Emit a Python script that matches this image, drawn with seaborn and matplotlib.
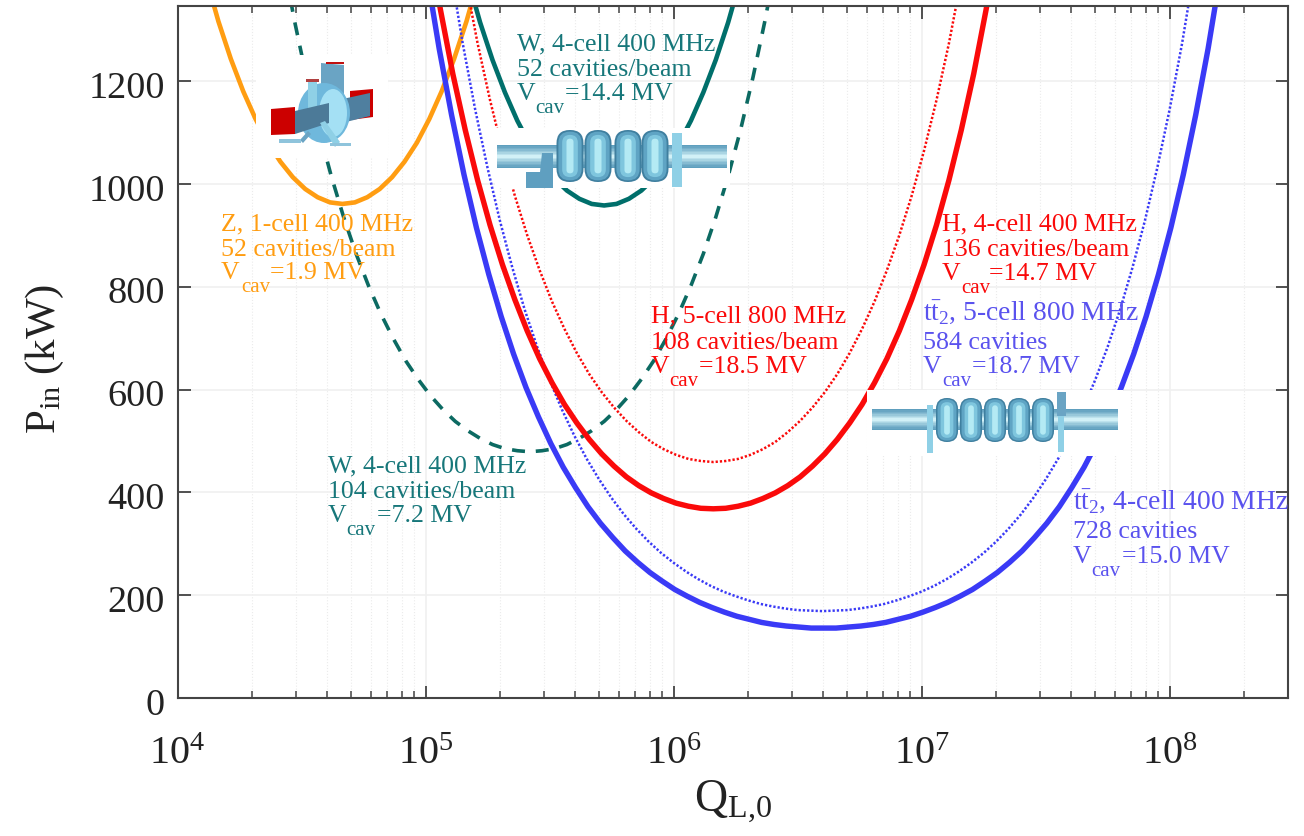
import numpy as np
import seaborn as sns
import matplotlib.pyplot as plt
from matplotlib.colors import to_rgb
from matplotlib.patches import Rectangle, Ellipse, Polygon, FancyBboxPatch
from matplotlib.ticker import LogLocator, NullFormatter, FixedLocator, FuncFormatter
from matplotlib.transforms import Affine2D, ScaledTranslation

# curves: log10(Q_L,0) and P_in in kW
logq_z = [4.115, 4.165, 4.215, 4.265, 4.315, 4.365, 4.415, 4.465, 4.515, 4.565, 4.615, 4.665,
          4.715, 4.765, 4.815, 4.865, 4.915, 4.965, 5.015, 5.065, 5.115, 5.165, 5.215]
p_z = [1401, 1316, 1243, 1180, 1126, 1080, 1043, 1013, 990, 974, 964, 961,
       964, 974, 990, 1013, 1043, 1080, 1126, 1180, 1243, 1316, 1401]

logq_w52 = [5.17, 5.22, 5.27, 5.32, 5.37, 5.42, 5.47, 5.52, 5.57, 5.62, 5.67, 5.72,
            5.77, 5.82, 5.87, 5.92, 5.97, 6.02, 6.07, 6.12, 6.17, 6.22, 6.27]
p_w52 = [1399, 1314, 1241, 1178, 1123, 1077, 1040, 1010, 987, 971, 961, 958,
         961, 971, 987, 1010, 1040, 1077, 1123, 1178, 1241, 1314, 1399]

logq_w104 = [4.42, 4.47, 4.52, 4.57, 4.62, 4.67, 4.72, 4.77, 4.82, 4.87, 4.92, 4.97, 5.02, 5.07,
             5.12, 5.17, 5.22, 5.27, 5.32, 5.37, 5.42, 5.47, 5.52, 5.57, 5.62, 5.67, 5.72, 5.77,
             5.82, 5.87, 5.92, 5.97, 6.02, 6.07, 6.12, 6.17, 6.22, 6.27, 6.32, 6.37, 6.42]
p_w104 = [1451, 1321, 1207, 1105, 1015, 935, 864, 802, 747, 699, 656, 620, 588, 561,
          538, 520, 505, 493, 485, 481, 479, 481, 485, 493, 505, 520, 538, 561,
          588, 620, 656, 699, 747, 802, 864, 935, 1015, 1105, 1207, 1321, 1451]

logq_h4 = [4.96, 5.01, 5.06, 5.11, 5.16, 5.21, 5.26, 5.31, 5.36, 5.41, 5.46, 5.51, 5.56, 5.61,
           5.66, 5.71, 5.76, 5.81, 5.86, 5.91, 5.96, 6.01, 6.06, 6.11, 6.16, 6.21, 6.26, 6.31,
           6.36, 6.41, 6.46, 6.51, 6.56, 6.61, 6.66, 6.71, 6.76, 6.81, 6.86, 6.91, 6.96, 7.01,
           7.06, 7.11, 7.16, 7.21, 7.26, 7.31, 7.36]
p_h4 = [1634, 1478, 1339, 1214, 1105, 1007, 920, 843, 775, 714, 660, 613, 571, 535,
        503, 475, 451, 430, 413, 399, 388, 379, 373, 369, 368, 369, 373, 379,
        388, 399, 413, 430, 451, 475, 503, 535, 571, 613, 660, 714, 775, 843,
        920, 1007, 1105, 1214, 1339, 1478, 1634]

logq_h5 = [5.16, 5.21, 5.26, 5.31, 5.36, 5.41, 5.46, 5.51, 5.56, 5.61, 5.66, 5.71, 5.76, 5.81,
           5.86, 5.91, 5.96, 6.01, 6.06, 6.11, 6.16, 6.21, 6.26, 6.31, 6.36, 6.41, 6.46, 6.51,
           6.56, 6.61, 6.66, 6.71, 6.76, 6.81, 6.86, 6.91, 6.96, 7.01, 7.06, 7.11, 7.16]
p_h5 = [1399, 1273, 1163, 1065, 977, 900, 832, 771, 718, 671, 630, 595, 565, 539,
        517, 498, 484, 473, 465, 461, 459, 461, 465, 473, 484, 498, 517, 539,
        565, 595, 630, 671, 718, 771, 832, 900, 977, 1065, 1163, 1273, 1399]

logq_tt4 = [5.005, 5.055, 5.105, 5.155, 5.205, 5.255, 5.305, 5.355, 5.405, 5.455, 5.505, 5.555,
            5.605, 5.655, 5.705, 5.755, 5.805, 5.855, 5.905, 5.955, 6.005, 6.055, 6.105, 6.155,
            6.205, 6.255, 6.305, 6.355, 6.405, 6.455, 6.505, 6.555, 6.605, 6.655, 6.705, 6.755,
            6.805, 6.855, 6.905, 6.955, 7.005, 7.055, 7.105, 7.155, 7.205, 7.255, 7.305, 7.355,
            7.405, 7.455, 7.505, 7.555, 7.605, 7.655, 7.705, 7.755, 7.805, 7.855, 7.905, 7.955,
            8.005, 8.055, 8.105, 8.155, 8.205]
p_tt4 = [1409, 1263, 1134, 1018, 915, 824, 742, 669, 604, 547, 495, 449,
         409, 372, 340, 312, 286, 264, 244, 227, 211, 198, 186, 176,
         167, 159, 153, 147, 143, 140, 138, 136, 136, 136, 138, 140,
         143, 147, 153, 159, 167, 176, 186, 198, 211, 227, 244, 264,
         286, 312, 340, 372, 409, 449, 495, 547, 604, 669, 742, 824,
         915, 1018, 1134, 1263, 1409]

logq_tt5 = [5.10, 5.15, 5.20, 5.25, 5.30, 5.35, 5.40, 5.45, 5.50, 5.55, 5.60, 5.65, 5.70, 5.75,
            5.80, 5.85, 5.90, 5.95, 6.00, 6.05, 6.10, 6.15, 6.20, 6.25, 6.30, 6.35, 6.40, 6.45,
            6.50, 6.55, 6.60, 6.65, 6.70, 6.75, 6.80, 6.85, 6.90, 6.95, 7.00, 7.05, 7.10, 7.15,
            7.20, 7.25, 7.30, 7.35, 7.40, 7.45, 7.50, 7.55, 7.60, 7.65, 7.70, 7.75, 7.80, 7.85,
            7.90, 7.95, 8.00, 8.05, 8.10]
p_tt5 = [1419, 1273, 1145, 1031, 928, 837, 755, 683, 619, 561, 510, 465, 425, 389,
         357, 329, 304, 282, 263, 246, 231, 218, 207, 198, 190, 183, 178, 174,
         171, 170, 169, 170, 171, 174, 178, 183, 190, 198, 207, 218, 231, 246,
         263, 282, 304, 329, 357, 389, 425, 465, 510, 561, 619, 683, 755, 837,
         928, 1031, 1145, 1273, 1419]

y_ticks = [0, 200, 400, 600, 800, 1000, 1200]
x_ticks = [1e4, 1e5, 1e6, 1e7, 1e8]

ORANGE = "#ff9d12"
TEAL = "#006f6b"
TEAL_DASH = "#0c6a62"
TEAL_TEXT = "#17777a"
RED = "#fa0a0a"
BLUE = "#3a3af6"
BLUE_TEXT = "#5a52ee"

W, H = 1304, 836

sns.set_theme(style="ticks")
plt.rcParams["font.family"] = ["Liberation Serif", "DejaVu Serif"]
plt.rcParams["mathtext.fontset"] = "custom"
plt.rcParams["mathtext.rm"] = "Liberation Serif"
plt.rcParams["mathtext.it"] = "Liberation Serif:italic"
plt.rcParams["mathtext.bf"] = "Liberation Serif:bold"

fig = plt.figure(figsize=(W / 100, H / 100), dpi=100)
ax = fig.add_axes([177.5 / W, (H - 698) / H, (1288 - 177.5) / W, (698 - 6) / H])

# image pixel coordinates for the overlays (y grows downward)
px = Affine2D().scale(1, -1).translate(0, H)


def curve(logq, p, color, lw, ls="-"):
    sns.lineplot(x=10 ** np.array(logq), y=p, ax=ax, color=color, linewidth=lw,
                 linestyle=ls, sort=False, errorbar=None)


curve(logq_z, p_z, ORANGE, 3.3)
curve(logq_w104, p_w104, TEAL_DASH, 2.6, (0, (3.6, 3)))
curve(logq_w52, p_w52, TEAL, 3.3)
curve(logq_h5, p_h5, RED, 1.8, (0, (0.9, 0.8)))
curve(logq_tt5, p_tt5, BLUE, 1.8, (0, (0.9, 0.8)))
curve(logq_h4, p_h4, RED, 3.9)
curve(logq_tt4, p_tt4, BLUE, 3.9)

ax.set_xscale("log")
ax.set_xlim(1e4, 3e8)
ax.set_ylim(0, 1346)
ax.xaxis.set_major_locator(FixedLocator(x_ticks))
ax.xaxis.set_minor_locator(LogLocator(base=10, subs=range(2, 10), numticks=20))
ax.xaxis.set_minor_formatter(NullFormatter())
ax.xaxis.set_major_formatter(FuncFormatter(lambda v, _: r"$\mathrm{10^{%d}}$" % round(np.log10(v))))
ax.set_yticks(y_ticks)

ax.grid(True, which="major", color="#f0f0f0", linewidth=1.2)
ax.grid(True, which="minor", axis="x", color="#ebebeb", linewidth=0.8, linestyle=":")
ax.set_axisbelow(True)
ax.tick_params(which="major", direction="in", length=9, width=1.3, color="#444444",
               top=True, right=True, labelsize=27.5, labelcolor="#222222")
ax.tick_params(which="minor", direction="in", length=5, width=1.1, color="#444444", top=True)
ax.tick_params(axis="x", which="major", pad=27, labelsize=29)
ax.tick_params(axis="y", which="major", pad=9)
for s in ax.spines.values():
    s.set_color("#444444")
    s.set_linewidth(1.5)

# y numbers sit a little under their ticks in the original
for lab in ax.get_yticklabels():
    lab.set_transform(lab.get_transform() + ScaledTranslation(0, -3.5 / 100, fig.dpi_scale_trans))

ax.set_xlabel(r"Q$_{\mathrm{L{,}0}}$", fontsize=33, color="#222222", labelpad=4)
ax.set_ylabel(r"P$_{\mathrm{in}}$ (kW)", fontsize=31, color="#222222", labelpad=16, y=0.49)


def rect(x0, y0, x1, y1, color, z=1.0):
    fig.add_artist(Rectangle((x0, y0), x1 - x0, y1 - y0, transform=px, facecolor=color,
                             edgecolor="none", zorder=z))


def tube(x0, x1, y0, y1, z=1.2):
    # shaded pipe, lit along the middle
    edge = np.array(to_rgb("#5a9cbc"))
    mid = np.array(to_rgb("#dcf8fc"))
    n = 16
    for i in range(n):
        t = 1 - abs(2 * (i + 0.5) / n - 1)
        rect(x0, y0 + i * (y1 - y0) / n, x1, y0 + (i + 1) * (y1 - y0) / n + 0.4,
             tuple(edge + (mid - edge) * t ** 1.3), z)


def cell(xc, yc, w, h, z=1.3):
    # rounded cavity cell, dark rim and a light middle
    for f, c in [(1.0, "#3f7f9f"), (0.86, "#5fa4c4"), (0.58, "#7fc6de"), (0.26, "#b4eaf4")]:
        bw, bh = w * f, h * (0.55 + 0.45 * f)
        r = bw * 0.49
        fig.add_artist(FancyBboxPatch((xc - bw / 2 + r, yc - bh / 2 + r), bw - 2 * r, bh - 2 * r,
                                      boxstyle="round,pad=%f,rounding_size=%f" % (r, r),
                                      transform=px, facecolor=c, edgecolor="none", zorder=z,
                                      mutation_scale=1))


def poly(points, color, z=1.4):
    fig.add_artist(Polygon(points, closed=True, transform=px, facecolor=color,
                           edgecolor="none", zorder=z))


# 1-cell cavity
rect(256, 55, 388, 158, "white")
poly([(321, 63), (344, 65), (344, 100), (321, 100)], "#6aa4c4", 1.2)
rect(326, 62, 344, 64, "#c01010", 1.25)
poly([(350, 91), (373, 89), (373, 117), (350, 120)], "#cc0000", 1.2)
poly([(338, 100), (370, 93), (370, 116), (338, 124)], "#4f7f9f", 1.25)
fig.add_artist(Ellipse((324, 113), 52, 60, transform=px, facecolor="#6fb8dc", edgecolor="none", zorder=1.3))
fig.add_artist(Ellipse((333, 113), 28, 48, transform=px, facecolor="#a4e0f4", edgecolor="none", zorder=1.35))
rect(308, 80, 317, 112, "#8fd0e6", 1.45)
rect(306, 79, 319, 82, "#b04040", 1.46)
poly([(295, 111), (329, 103), (329, 123), (295, 134)], "#4c7a98", 1.5)
poly([(271, 109), (295, 107), (295, 134), (271, 135)], "#cc0000", 1.55)
poly([(320, 123), (325, 121), (340, 142), (335, 147)], "#8fd0e6", 1.5)
poly([(300, 140), (308, 131), (311, 134), (303, 143)], "#6aa4c4", 1.5)
rect(279, 139, 301, 143, "#8fc4dc", 1.5)
rect(330, 143, 351, 146, "#8fc4dc", 1.5)

# 4-cell cavity
rect(495, 128, 730, 188, "white")
tube(497, 727, 145, 168)
poly([(526, 172), (540, 172), (542, 153), (553, 153), (553, 188), (526, 188)], "#5f9fc0", 1.25)
for xc in [570, 598, 628, 655]:
    cell(xc, 156, 27, 52)
rect(672, 133, 682, 187, "#8fd0e6", 1.45)

# 5-cell cavity
rect(867, 390, 1123, 456, "white")
tube(872, 1118, 409, 430)
for xc in [947, 971, 995, 1019, 1043]:
    cell(xc, 420, 22, 44)
rect(927, 405, 933, 453, "#8fd0e6", 1.45)
rect(1058, 392, 1064, 452, "#8fd0e6", 1.45)
rect(1057, 392, 1066, 416, "#6aa4c4", 1.46)


def note(x, line1, line2, vcav, base, color, cav_dx, eq_dx, fs1=18.6):
    # three line label, the V_cav line is put together from separate pieces
    fs = 18.6
    fig.text(x, base[0], line1, transform=px, fontsize=fs1, color=color, va="baseline", zorder=5)
    fig.text(x, base[1], line2, transform=px, fontsize=fs, color=color, va="baseline", zorder=5)
    fig.text(x, base[2], "V", transform=px, fontsize=fs, color=color, va="baseline", zorder=5)
    fig.text(x + cav_dx, base[2] + 13, "cav", transform=px, fontsize=15, color=color, va="baseline", zorder=5)
    fig.text(x + eq_dx, base[2], vcav, transform=px, fontsize=fs, color=color, va="baseline", zorder=5)


note(221, "Z, 1-cell 400 MHz", "52 cavities/beam", "=1.9 MV", (230, 256, 279), ORANGE, 20, 49)
note(516.7, "W, 4-cell 400 MHz", "52 cavities/beam", "=14.4 MV", (50, 76, 100), TEAL_TEXT, 19, 48)
note(942, "H, 4-cell 400 MHz", "136 cavities/beam", "=14.7 MV", (230, 256, 280), RED, 19, 47)
note(650.6, "H, 5-cell 800 MHz", "108 cavities/beam", "=18.5 MV", (322, 349, 373), RED, 19, 48)
note(327.6, "W, 4-cell 400 MHz", "104 cavities/beam", "=7.2 MV", (472, 498, 522), TEAL_TEXT, 19, 49)
note(922.7, r"$\mathrm{t\bar{t}_2}$, 5-cell 800 MHz", "584 cavities", "=18.7 MV", (320, 349, 373),
     BLUE_TEXT, 20, 49, fs1=19.9)
note(1072.7, r"$\mathrm{t\bar{t}_2}$, 4-cell 400 MHz", "728 cavities", "=15.0 MV", (509, 538, 563),
     BLUE_TEXT, 19, 49, fs1=19.9)

fig.savefig("out.png", dpi=100)
